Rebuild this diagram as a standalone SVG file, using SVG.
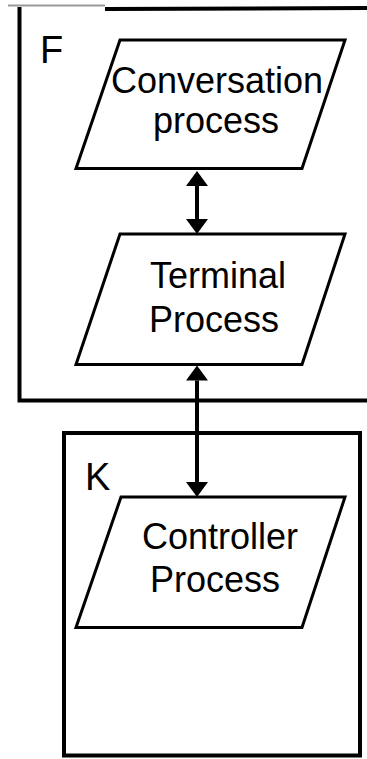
<svg xmlns="http://www.w3.org/2000/svg" width="367" height="759" viewBox="0 0 367 759">
  <style>
    .frame { fill: none; stroke: #000; stroke-width: 4; }
    .para { fill: #fff; stroke: #000; stroke-width: 3; stroke-linejoin: miter; }
    .txt { font-family: "Liberation Sans", Arial, sans-serif; font-size: 36px; fill: #000; text-anchor: middle; }
    .lbl { font-family: "Liberation Sans", Arial, sans-serif; font-size: 38px; fill: #000; }
    .conn { stroke: #000; stroke-width: 4; fill: none; marker-start: url(#head); marker-end: url(#head); }
  </style>
  <defs>
    <marker id="head" markerUnits="userSpaceOnUse" markerWidth="16" markerHeight="22" refX="0" refY="11" orient="auto-start-reverse" viewBox="0 0 16 22">
      <path d="M0,0 L15,11 L0,22 z" fill="#000"/>
    </marker>
  </defs>
  <rect width="367" height="759" fill="#fff"/>

  <g id="frame-F">
    <line x1="8" y1="5.5" x2="105" y2="5.5" stroke="#999" stroke-width="2"/>
    <polyline class="frame" points="105,9 367,8"/>
    <polyline class="frame" points="19.5,7 19.5,400.5 367,400.5"/>
    <text class="lbl" x="40" y="63">F</text>
  </g>

  <g id="frame-K">
    <rect class="frame" x="64" y="433" width="296" height="322.5"/>
    <text class="lbl" x="85" y="490">K</text>
  </g>

  <g id="connectors">
    <line class="conn" x1="197" y1="186" x2="197" y2="219"/>
    <line class="conn" x1="197" y1="380.5" x2="197" y2="482"/>
  </g>

  <g id="conversation-process">
    <polygon class="para" points="120,40 345,40 302,168.5 76,168.5"/>
    <text class="txt" x="217" y="93">Conversation</text>
    <text class="txt" x="216" y="133">process</text>
  </g>

  <g id="terminal-process">
    <polygon class="para" points="120,234 345,234 302,364.5 76,364.5"/>
    <text class="txt" x="218" y="288">Terminal</text>
    <text class="txt" x="214" y="332">Process</text>
  </g>

  <g id="controller-process">
    <polygon class="para" points="121,497 345,497 302,627.5 76,627.5"/>
    <text class="txt" x="220" y="549">Controller</text>
    <text class="txt" x="215" y="592">Process</text>
  </g>
</svg>
